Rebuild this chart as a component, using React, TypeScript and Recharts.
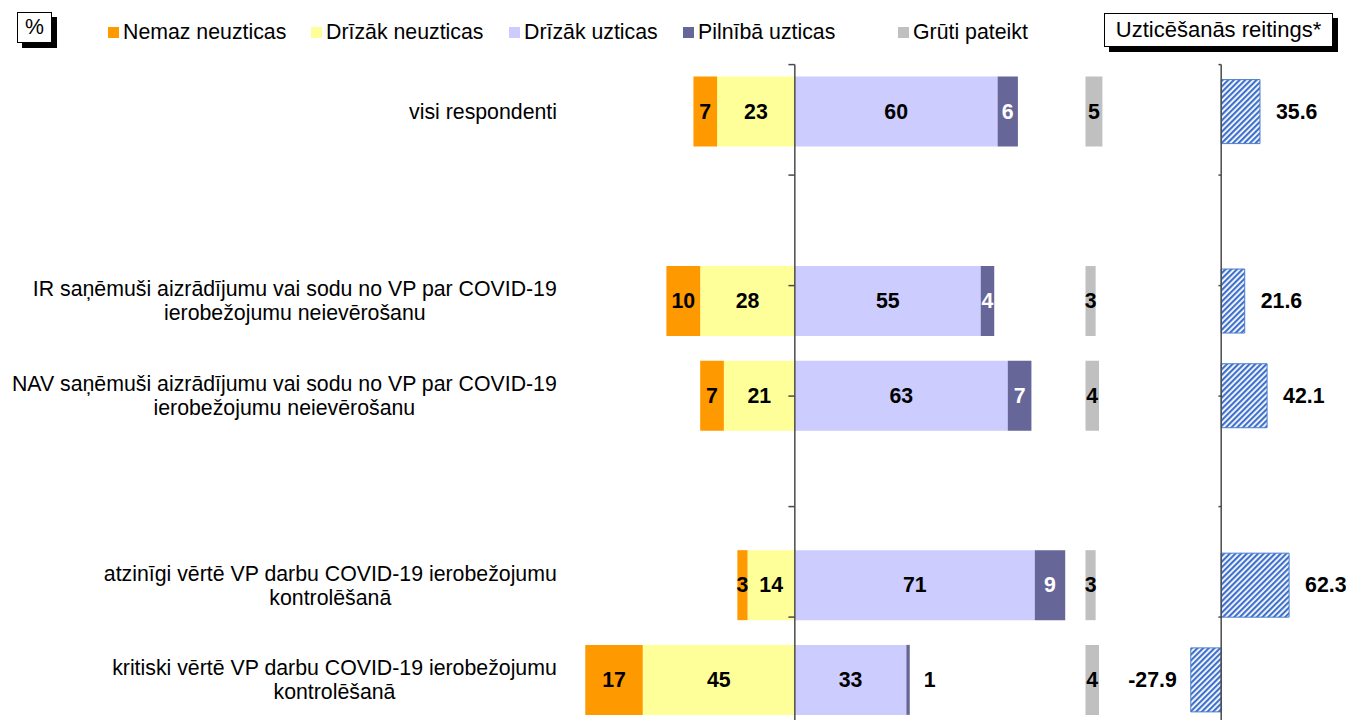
import React from 'react';
import { BarChart, Bar, XAxis, YAxis, ReferenceLine, LabelList } from 'recharts';

// ---------------- data ----------------
const categories: string[] = [
  'visi respondenti',
  '',
  'IR saņēmuši aizrādījumu vai sodu no VP par COVID-19\nierobežojumu neievērošanu',
  'NAV saņēmuši aizrādījumu vai sodu no VP par COVID-19\nierobežojumu neievērošanu',
  '',
  'atzinīgi vērtē VP darbu COVID-19 ierobežojumu\nkontrolēšanā',
  'kritiski vērtē VP darbu COVID-19 ierobežojumu\nkontrolēšanā',
];
const nemazNeuzticas: (number | null)[] = [7, null, 10, 7, null, 3, 17];
const drizakNeuzticas: (number | null)[] = [23, null, 28, 21, null, 14, 45];
const drizakUzticas: (number | null)[] = [60, null, 55, 63, null, 71, 33];
const pilnibaUzticas: (number | null)[] = [6, null, 4, 7, null, 9, 1];
const grutiPateikt: (number | null)[] = [5, null, 3, 4, null, 3, 4];
const reitings: (number | null)[] = [35.6, null, 21.6, 42.1, null, 62.3, -27.9];

const seriesNames = ['Nemaz neuzticas', 'Drīzāk neuzticas', 'Drīzāk uzticas', 'Pilnībā uzticas', 'Grūti pateikt'];
const unitLabel = '%';
const ratingTitle = 'Uzticēšanās reitings*';

// ---------------- layout / style constants ----------------
const GRUTI_START = 86; // where the "Grūti pateikt" column starts on the % scale
const COLORS = ['#FF9900', '#FFFF99', '#CCCCFF', '#666699', '#C0C0C0'];
const FONT = "'Liberation Sans', Arial, Helvetica, sans-serif";
const FS = 21.3;

const z = (v: number | null) => (v == null ? 0 : v);

const data = categories.map((_, i) => ({
  idx: i,
  negDrizak: -z(drizakNeuzticas[i]),
  negNemaz: -z(nemazNeuzticas[i]),
  posDrizak: z(drizakUzticas[i]),
  posPilniba: z(pilnibaUzticas[i]),
  spacer: drizakUzticas[i] == null ? 0 : GRUTI_START - z(drizakUzticas[i]) - z(pilnibaUzticas[i]),
  gruti: z(grutiPateikt[i]),
  reitings: z(reitings[i]),
}));

let ctx: CanvasRenderingContext2D | null = null;
function measure(text: string, size: number): number {
  if (!ctx) ctx = document.createElement('canvas').getContext('2d');
  if (!ctx) return text.length * size * 0.5;
  ctx.font = `${size}px ${FONT}`;
  return ctx.measureText(text).width;
}

const CategoryTick = (props: any) => {
  const { x, y, payload } = props;
  const label = categories[Number(payload.value)];
  if (!label) return null;
  const lines = label.split('\n');
  const maxW = Math.max(...lines.map((l) => measure(l, FS)));
  const cx = x - maxW / 2;
  const lh = 24;
  const y0 = y - ((lines.length - 1) * lh) / 2;
  return (
    <g>
      {lines.map((l, k) => (
        <text key={k} x={cx} y={y0 + k * lh} textAnchor="middle" dominantBaseline="central"
          fontSize={FS} fontFamily={FONT} fill="#000">{l}</text>
      ))}
    </g>
  );
};

const rawValue = (props: any): number | null => {
  let v = props.value;
  if (Array.isArray(v)) v = v[1] - v[0];
  const n = Number(v);
  if (!isFinite(n) || n === 0) return null;
  return n;
};

const makeLabel = (color: string, smallOutside = false) => (props: any) => {
  const { x, y, width, height } = props;
  const raw = rawValue(props);
  if (raw == null) return null;
  const v = Math.abs(raw);
  const left = Math.min(x, x + width);
  const w = Math.abs(width);
  let tx = left + w / 2;
  let anchor: 'middle' | 'start' = 'middle';
  let fill = color;
  if (smallOutside && v < 2) {
    tx = left + w + 14;
    anchor = 'start';
    fill = '#000';
  }
  return (
    <text x={tx} y={y + height / 2} textAnchor={anchor} dominantBaseline="central"
      fontSize={FS} fontWeight="bold" fontFamily={FONT} fill={fill}>{v}</text>
  );
};

const ratingLabel = (props: any) => {
  const { x, y, width, height } = props;
  const v = rawValue(props);
  if (v == null) return null;
  const left = Math.min(x, x + width);
  const right = Math.max(x, x + width);
  const pos = v >= 0;
  return (
    <text x={pos ? right + 16 : left - 14} y={y + height / 2} textAnchor={pos ? 'start' : 'end'}
      dominantBaseline="central" fontSize={FS} fontWeight="bold" fontFamily={FONT} fill="#000">
      {v.toFixed(1)}
    </text>
  );
};

const boundaries = [0, 1, 2, 3, 4, 5, 6, 7];

const Legend = () => {
  const items = [
    { left: 108, name: seriesNames[0], color: COLORS[0] },
    { left: 311, name: seriesNames[1], color: COLORS[1] },
    { left: 509, name: seriesNames[2], color: COLORS[2] },
    { left: 683, name: seriesNames[3], color: COLORS[3] },
    { left: 898, name: seriesNames[4], color: COLORS[4] },
  ];
  return (
    <div style={{ position: 'absolute', left: 0, top: 0, width: 1346, height: 60, fontFamily: FONT, fontSize: FS, color: '#000' }}>
      <div style={{ position: 'absolute', left: 17, top: 12, width: 33, height: 29, border: '1px solid #000', background: '#fff',
        boxShadow: '5px 5px 0 #000', textAlign: 'center', lineHeight: '29px' }}>{unitLabel}</div>
      {items.map((it) => (
        <div key={it.name} style={{ position: 'absolute', left: it.left, top: 20, height: 24, display: 'flex', alignItems: 'center', whiteSpace: 'nowrap' }}>
          <span style={{ display: 'inline-block', width: 11, height: 11, background: it.color, marginRight: 4 }} />
          <span>{it.name}</span>
        </div>
      ))}
      <div style={{ position: 'absolute', left: 1104, top: 13, width: 227, height: 32, border: '1px solid #000', background: '#fff',
        boxShadow: '5px 5px 0 #000', textAlign: 'center', lineHeight: '32px', whiteSpace: 'nowrap', fontSize: 22 }}>{ratingTitle}</div>
    </div>
  );
};

export default function App() {
  return (
    <div style={{ position: 'fixed', left: 0, top: 0, width: 1346, height: 720, overflow: 'hidden', background: '#fff' }}>
      <BarChart width={1346} height={740} data={data} layout="vertical" stackOffset="sign"
        margin={{ top: 64.6, right: 6, bottom: 12.4, left: 0 }}>
        <defs>
          <pattern id="hatch" patternUnits="userSpaceOnUse" width="4" height="4" patternTransform="rotate(45)">
            <rect width="4" height="4" fill="#ffffff" />
            <rect width="2.2" height="4" fill="#3F71CC" />
          </pattern>
        </defs>
        <XAxis xAxisId="m" type="number" domain={[-68, 161.3]} hide allowDataOverflow />
        <XAxis xAxisId="r" type="number" domain={[-602, 109]} hide allowDataOverflow />
        <YAxis yAxisId="c" type="category" dataKey="idx" width={565} axisLine={false} tickLine={false}
          tickSize={0} tickMargin={8} tick={<CategoryTick />} interval={0} />
        <YAxis yAxisId="c2" type="category" dataKey="idx" hide />
        <YAxis yAxisId="t" type="number" domain={[0, 7]} hide allowDataOverflow />

        <Bar xAxisId="m" yAxisId="c" dataKey="negDrizak" stackId="a" fill={COLORS[1]} barSize={70} isAnimationActive={false}>
          <LabelList dataKey="negDrizak" content={makeLabel('#000')} />
        </Bar>
        <Bar xAxisId="m" yAxisId="c" dataKey="negNemaz" stackId="a" fill={COLORS[0]} barSize={70} isAnimationActive={false}>
          <LabelList dataKey="negNemaz" content={makeLabel('#000')} />
        </Bar>
        <Bar xAxisId="m" yAxisId="c" dataKey="posDrizak" stackId="a" fill={COLORS[2]} barSize={70} isAnimationActive={false}>
          <LabelList dataKey="posDrizak" content={makeLabel('#000')} />
        </Bar>
        <Bar xAxisId="m" yAxisId="c" dataKey="posPilniba" stackId="a" fill={COLORS[3]} barSize={70} isAnimationActive={false}>
          <LabelList dataKey="posPilniba" content={makeLabel('#ffffff', true)} />
        </Bar>
        <Bar xAxisId="m" yAxisId="c" dataKey="spacer" stackId="a" fill="transparent" fillOpacity={0} barSize={70} isAnimationActive={false} />
        <Bar xAxisId="m" yAxisId="c" dataKey="gruti" stackId="a" fill={COLORS[4]} barSize={70} isAnimationActive={false}>
          <LabelList dataKey="gruti" content={makeLabel('#000')} />
        </Bar>

        <Bar xAxisId="r" yAxisId="c2" dataKey="reitings" fill="url(#hatch)" stroke="#4A7ECC" strokeWidth={1} barSize={64} isAnimationActive={false}>
          <LabelList dataKey="reitings" content={ratingLabel} />
        </Bar>

        <ReferenceLine xAxisId="m" yAxisId="c" x={0} stroke="#4a4a4a" strokeWidth={1.5} />
        <ReferenceLine xAxisId="r" yAxisId="c2" x={0} stroke="#4a4a4a" strokeWidth={1.5} />
        {boundaries.map((b) => (
          <ReferenceLine key={'tm' + b} xAxisId="m" yAxisId="t" stroke="#4a4a4a" strokeWidth={1.5}
            segment={[{ x: -1.9, y: b }, { x: 0, y: b }]} ifOverflow="visible" />
        ))}
        {boundaries.map((b) => (
          <ReferenceLine key={'tr' + b} xAxisId="r" yAxisId="t" stroke="#4a4a4a" strokeWidth={1.5}
            segment={[{ x: -2.5, y: b }, { x: 0, y: b }]} ifOverflow="visible" />
        ))}
      </BarChart>
      <Legend />
    </div>
  );
}
